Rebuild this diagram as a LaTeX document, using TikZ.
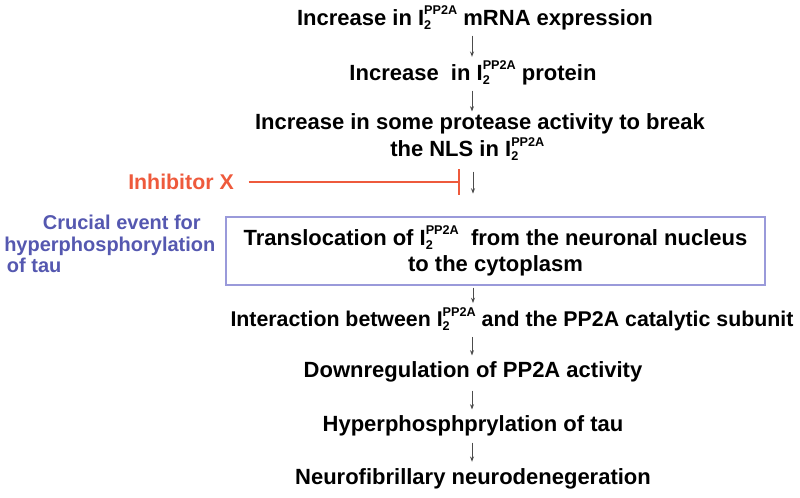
\documentclass[tikz,border=0pt]{standalone}
\usepackage{fontspec}
\setmainfont{Liberation Sans}
\usetikzlibrary{arrows.meta}
\definecolor{redx}{HTML}{EE5A3C}
\definecolor{bluet}{HTML}{5558B0}
\definecolor{boxc}{HTML}{9A9ADA}
\newcommand\Itwo{I\rlap{\raisebox{-0.35ex}{\fontsize{9.5}{9.5}\selectfont 2}}\raisebox{0.9ex}{\fontsize{9.5}{9.5}\selectfont PP2A}}
\tikzset{
  x=0.75pt, y=-0.75pt,
  lbl/.style={font=\fontsize{16.5}{20}\selectfont\bfseries, inner sep=0pt, text=black},
  side/.style={font=\fontsize{15}{16.2}\selectfont\bfseries, inner sep=0pt, text=bluet, align=left},
  down/.style={-{Stealth[length=4pt,width=3pt]}, draw=black!70, line width=0.6pt},
  evbox/.style={draw=boxc, line width=1.1pt, minimum width=539*0.75pt, minimum height=68*0.75pt, align=center, inner sep=0pt}
}
\begin{document}
\begin{tikzpicture}
\useasboundingbox (0,0) rectangle (800,497);
\coordinate (ax) at (472,0);
\coordinate (bx) at (473,0);
\node[lbl] (n1) at (475,18) {Increase in \Itwo{} mRNA expression};
\node[lbl] (n2) at (473,73) {Increase \ in \Itwo{} protein};
\node[lbl] (n3) at (480,124) {Increase in some protease activity to break};
\node[lbl,anchor=west] (n3b) at (390,149) {the NLS in \Itwo};
\node[font=\fontsize{16}{19}\selectfont\bfseries, text=redx, inner sep=0pt] (inh) at (181,182) {Inhibitor X};
\coordinate (bar) at (460,182);
\node[evbox, lbl] (box) at (495.5,251) {Translocation of \Itwo{} \ from the neuronal nucleus\\to the cytoplasm};
\node[side, anchor=north west] (crucial) at (4,215) {\hspace*{29pt}Crucial event for\\hyperphosphorylation\\\hspace*{2pt}of tau};
\node[lbl, font=\fontsize{16}{19}\selectfont\bfseries] (n5) at (512,319) {Interaction between \Itwo{} and the PP2A catalytic subunit};
\node[lbl] (n6) at (473,372) {Downregulation of PP2A activity};
\node[lbl] (n7) at (473,426) {Hyperphosphprylation of tau};
\node[lbl] (n8) at (473,479) {Neurofibrillary neurodenegeration};
\draw[down, shorten <=4pt, shorten >=3pt] (n1.south -| ax) -- (n2.north -| ax);
\draw[down, shorten <=4pt, shorten >=1.5pt] (n2.south -| ax) -- (n3.north -| ax);
\draw[down, shorten <=8pt, shorten >=17pt] (n3b.south -| bx) -- (box.north -| bx);
\draw[down, shorten <=1.5pt, shorten >=3pt] (box.south -| bx) -- (n5.north -| bx);
\draw[down, shorten <=4.5pt, shorten >=4.5pt] (n5.south -| ax) -- (n6.north -| ax);
\draw[down, shorten <=6pt, shorten >=4.5pt] (n6.south -| ax) -- (n7.north -| ax);
\draw[down, shorten <=4.5pt, shorten >=5pt] (n7.south -| ax) -- (n8.north -| ax);
\draw[redx, line width=1.6pt, shorten <=11pt, -{Bar[width=19pt,line width=1.6pt]}] (inh.east) -- (bar);
\end{tikzpicture}
\end{document}
